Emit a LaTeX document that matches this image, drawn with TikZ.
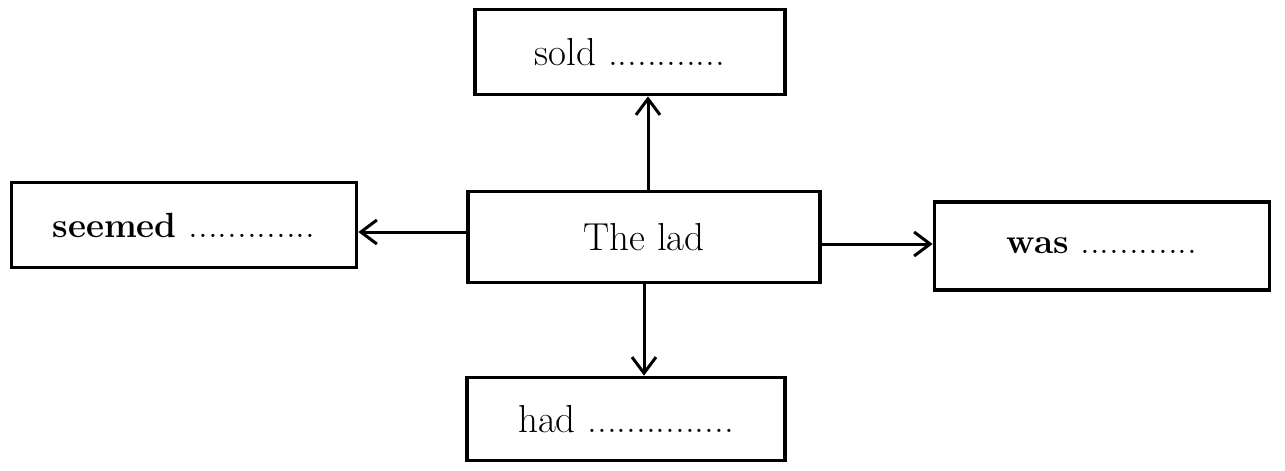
\documentclass[tikz,border=0pt]{standalone}
\usepackage{fontspec}
\usepackage{tikz}
\usetikzlibrary{arrows.meta}

\begin{document}
\begin{tikzpicture}[x = 1pt, y = -1pt,
  wordbox/.style = {draw, line width = 3.8pt, inner sep = 0pt, font = \fontsize{39}{41}\selectfont},
  arr/.style = {line width = 3pt, -{Straight Barb[length = 16pt, width = 24pt, line width = 3pt]}}]
\useasboundingbox (0, 0) rectangle (1285, 471);
\node [wordbox, minimum width = 352pt, minimum height = 91pt] (lad) at (644, 237) {The lad};
\node [wordbox, minimum width = 310pt, minimum height = 85pt] (sold) at (630, 52) {sold ............};
\node [wordbox, minimum width = 345pt, minimum height = 85pt] (seemed) at (184, 225) {{\fontsize{35}{37}\selectfont\bfseries seemed} .............};
\node [wordbox, minimum width = 335pt, minimum height = 88pt] (was) at (1102, 246) {{\fontsize{35}{37}\selectfont\bfseries was} ............};
\node [wordbox, minimum width = 318pt, minimum height = 83pt] (had) at (626, 419) {had ...............};
\draw [arr] ([xshift = 4pt]lad.north) -- ([xshift = 4pt]lad.north |- sold.south);
\draw [arr] (lad.south) -- (lad.south |- had.north);
\draw [arr] ([yshift = 5pt]lad.west) -- ([yshift = 5pt]lad.west -| seemed.east);
\draw [arr] ([yshift = -7pt]lad.east) -- ([yshift = -7pt]lad.east -| was.west);
\end{tikzpicture}
\end{document}
